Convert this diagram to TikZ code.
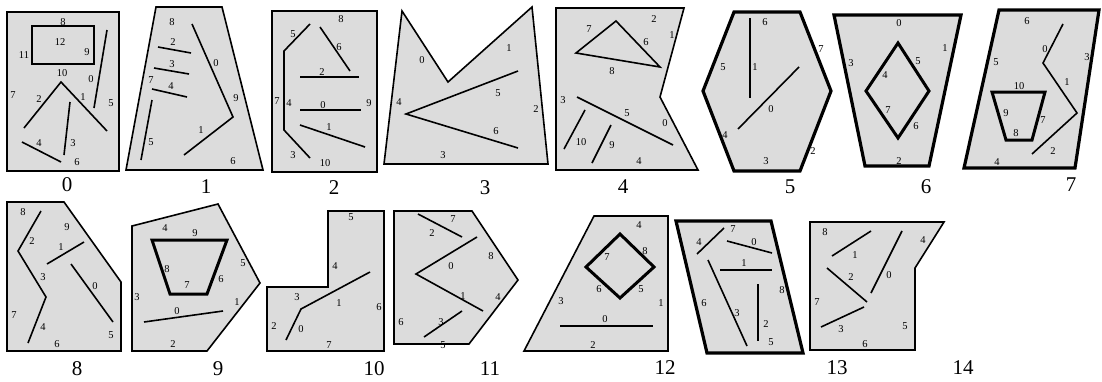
\documentclass[tikz,border=0pt]{standalone}
\usepackage{fontspec}
\setmainfont{Liberation Serif}
\usepackage{xcolor}
\definecolor{panelgray}{RGB}{220,220,220}

\begin{document}
\begin{tikzpicture}[x=1pt, y=-1pt]
    % Styles
    \tikzstyle{poly} = [draw, fill=panelgray, line width=1.6pt, line join=miter]
    \tikzstyle{thickpoly} = [poly, line width=3.2pt]
    \tikzstyle{seg} = [draw, line width=1.6pt]
    \tikzstyle{thickseg} = [draw, line width=3pt]
    \tikzstyle{lbl} = [inner sep=0pt, font=\fontsize{10.5}{10.5}\selectfont]
    \tikzstyle{panelcap} = [inner sep=0pt, font=\fontsize{21}{21}\selectfont]

    \useasboundingbox (0,0) rectangle (1102,381);

    % Panel 0
    \path [poly] (7,12) rectangle (119,171);
    \path [seg] (32,26) rectangle (94,64);
    \path [seg] (107,30) -- (94,108);
    \path [seg] (24,128) -- (61,82) -- (107,131);
    \path [seg] (70,102) -- (64,155);
    \path [seg] (22,142) -- (61,162);
    \foreach \t/\x/\y in {8/63/22, 12/60/42, 11/24/55, 9/87/52, 10/62/73, 0/91/79, 7/13/95,
        2/39/99, 1/83/97, 5/111/103, 4/39/143, 3/73/143, 6/77/162}
        \node [lbl] (p0e\t) at (\x,\y) {\t};
    \node [panelcap] (c0) at (67,185) {0};

    % Panel 1
    \path [poly] (156,7) -- (222,7) -- (263,170) -- (126,170) -- cycle;
    \path [seg] (192,24) -- (233,117) -- (184,155);
    \path [seg] (158,47) -- (191,53);
    \path [seg] (154,68) -- (189,74);
    \path [seg] (152,89) -- (187,97);
    \path [seg] (152,100) -- (141,160);
    \foreach \t/\x/\y in {8/172/22, 2/173/42, 3/172/64, 7/151/80, 4/171/86, 0/216/63,
        9/236/98, 1/201/130, 5/151/142, 6/233/161}
        \node [lbl] (p1e\t) at (\x,\y) {\t};
    \node [panelcap] (c1) at (206,187) {1};

    % Panel 2
    \path [poly] (272,11) rectangle (377,172);
    \path [seg] (310,24) -- (284,51) -- (284,130) -- (310,158);
    \path [seg] (320,27) -- (350,71);
    \path [seg] (300,77) -- (359,77);
    \path [seg] (300,110) -- (361,110);
    \path [seg] (300,125) -- (365,147);
    \foreach \t/\x/\y in {8/341/19, 5/293/34, 6/339/47, 2/322/72, 7/277/101, 4/289/103,
        0/323/105, 9/369/103, 1/329/127, 3/293/155, 10/325/163}
        \node [lbl] (p2e\t) at (\x,\y) {\t};
    \node [panelcap] (c2) at (334,188) {2};

    % Panel 3
    \path [poly] (402,11) -- (448,82) -- (532,7) -- (548,164) -- (384,164) -- cycle;
    \path [seg] (518,71) -- (406,114) -- (518,148);
    \foreach \t/\x/\y in {0/422/60, 1/509/48, 4/399/102, 5/498/93, 2/536/109, 6/496/131, 3/443/155}
        \node [lbl] (p3e\t) at (\x,\y) {\t};
    \node [panelcap] (c3) at (485,188) {3};

    % Panel 4
    \path [poly] (556,8) -- (684,8) -- (660,97) -- (698,170) -- (556,170) -- cycle;
    \path [seg] (616,21) -- (576,53) -- (660,67) -- cycle;
    \path [seg] (577,97) -- (673,145);
    \path [seg] (585,110) -- (564,149);
    \path [seg] (611,125) -- (592,163);
    \foreach \t/\x/\y in {2/654/19, 7/589/29, 1/672/35, 6/646/42, 8/612/71, 3/563/100,
        5/627/113, 0/665/123, 10/581/142, 9/612/145, 4/639/161}
        \node [lbl] (p4e\t) at (\x,\y) {\t};
    \node [panelcap] (c4) at (623,187) {4};

    % Panel 5
    \path [thickpoly] (734,12) -- (800,12) -- (831,91) -- (800,171) -- (734,171) -- (703,91) -- cycle;
    \path [seg] (750,18) -- (750,98);
    \path [seg] (799,67) -- (738,129);
    \foreach \t/\x/\y in {6/765/22, 7/821/49, 5/723/67, 1/755/67, 0/771/109, 4/725/135,
        2/813/151, 3/766/161}
        \node [lbl] (p5e\t) at (\x,\y) {\t};
    \node [panelcap] (c5) at (790,187) {5};

    % Panel 6
    \path [thickpoly] (834,15) -- (961,15) -- (929,166) -- (865,166) -- cycle;
    \path [thickseg] (898,43) -- (929,91) -- (898,138) -- (866,91) -- cycle;
    \foreach \t/\x/\y in {0/899/23, 1/945/48, 3/851/63, 5/918/61, 4/885/75, 7/888/110,
        6/916/126, 2/899/161}
        \node [lbl] (p6e\t) at (\x,\y) {\t};
    \node [panelcap] (c6) at (926,187) {6};

    % Panel 7
    \path [thickpoly] (999,10) -- (1099,10) -- (1075,168) -- (964,168) -- cycle;
    \path [thickseg] (992,92) -- (1045,92) -- (1032,140) -- (1006,140) -- cycle;
    \path [seg] (1063,24) -- (1043,63) -- (1077,113) -- (1032,154);
    \foreach \t/\x/\y in {6/1027/21, 0/1045/49, 3/1087/57, 5/996/62, 10/1019/86, 1/1067/82,
        9/1006/113, 7/1043/120, 8/1016/133, 2/1053/151, 4/997/162}
        \node [lbl] (p7e\t) at (\x,\y) {\t};
    \node [panelcap] (c7) at (1071,185) {7};

    % Panel 8
    \path [poly] (7,202) -- (64,202) -- (121,282) -- (121,351) -- (7,351) -- cycle;
    \path [seg] (41,211) -- (18,251) -- (46,297) -- (28,343);
    \path [seg] (47,264) -- (84,242);
    \path [seg] (71,264) -- (113,322);
    \foreach \t/\x/\y in {8/23/212, 9/67/227, 2/32/241, 1/61/247, 3/43/277, 0/95/286,
        7/14/315, 4/43/327, 5/111/335, 6/57/344}
        \node [lbl] (p8e\t) at (\x,\y) {\t};
    \node [panelcap] (c8) at (77,369) {8};

    % Panel 9
    \path [poly] (132,226) -- (218,204) -- (260,283) -- (207,351) -- (132,351) -- cycle;
    \path [thickseg] (152,240) -- (227,240) -- (207,294) -- (170,294) -- cycle;
    \path [seg] (144,322) -- (223,311);
    \foreach \t/\x/\y in {4/165/228, 9/195/233, 5/243/263, 8/167/269, 6/221/279, 7/187/285,
        3/137/297, 1/237/302, 0/177/311, 2/173/344}
        \node [lbl] (p9e\t) at (\x,\y) {\t};
    \node [panelcap] (c9) at (218,369) {9};

    % Panel 10
    \path [poly] (328,211) -- (384,211) -- (384,351) -- (267,351) -- (267,287) -- (328,287) -- cycle;
    \path [seg] (286,340) -- (301,309) -- (370,272);
    \foreach \t/\x/\y in {5/351/217, 4/335/266, 3/297/297, 1/339/303, 6/379/307, 2/274/326,
        0/301/329, 7/329/345}
        \node [lbl] (p10e\t) at (\x,\y) {\t};
    \node [panelcap] (c10) at (374,369) {10};

    % Panel 11
    \path [poly] (394,211) -- (472,211) -- (518,280) -- (469,344) -- (394,344) -- cycle;
    \path [seg] (418,214) -- (462,237);
    \path [seg] (477,237) -- (416,274) -- (483,311);
    \path [seg] (462,311) -- (424,337);
    \foreach \t/\x/\y in {7/453/219, 2/432/233, 8/491/256, 0/451/266, 4/498/297, 1/463/296,
        6/401/322, 3/441/322, 5/443/345}
        \node [lbl] (p11e\t) at (\x,\y) {\t};
    \node [panelcap] (c11) at (490,369) {11};

    % Panel 12
    \path [poly] (594,216) -- (668,216) -- (668,351) -- (524,351) -- cycle;
    \path [thickseg] (620,234) -- (654,267) -- (620,298) -- (586,267) -- cycle;
    \path [seg] (560,326) -- (653,326);
    \foreach \t/\x/\y in {4/639/225, 7/607/257, 8/645/251, 6/599/289, 5/641/289, 3/561/301,
        1/661/303, 0/605/319, 2/593/345}
        \node [lbl] (p12e\t) at (\x,\y) {\t};
    \node [panelcap] (c12) at (665,368) {12};

    % Panel 13
    \path [thickpoly] (676,221) -- (771,221) -- (803,353) -- (707,353) -- cycle;
    \path [seg] (697,254) -- (724,228);
    \path [seg] (727,241) -- (772,253);
    \path [seg] (720,270) -- (772,270);
    \path [seg] (708,260) -- (747,346);
    \path [seg] (758,284) -- (758,341);
    \foreach \t/\x/\y in {7/733/229, 4/699/242, 0/754/242, 1/744/263, 8/782/290, 6/704/303,
        3/737/313, 2/766/324, 5/771/342}
        \node [lbl] (p13e\t) at (\x,\y) {\t};
    \node [panelcap] (c13) at (837,368) {13};

    % Panel 14
    \path [poly] (810,222) -- (944,222) -- (915,268) -- (915,350) -- (810,350) -- cycle;
    \path [seg] (832,256) -- (871,231);
    \path [seg] (902,231) -- (871,293);
    \path [seg] (827,268) -- (867,302);
    \path [seg] (821,327) -- (864,307);
    \foreach \t/\x/\y in {8/825/232, 4/923/240, 1/855/255, 2/851/277, 0/889/275, 7/817/302,
        5/905/326, 3/841/329, 6/865/344}
        \node [lbl] (p14e\t) at (\x,\y) {\t};
    \node [panelcap] (c14) at (963,368) {14};
\end{tikzpicture}
\end{document}
